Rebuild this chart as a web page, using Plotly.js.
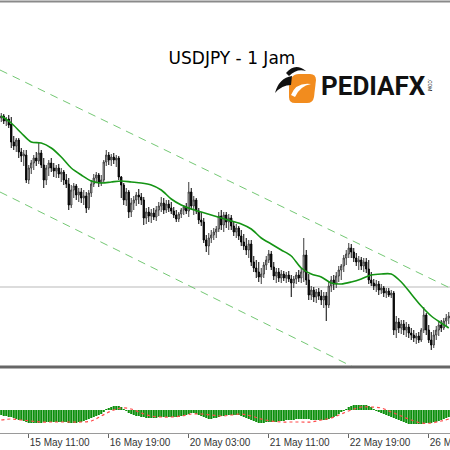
<!DOCTYPE html>
<html><head><meta charset="utf-8">
<script src="https://cdn.plot.ly/plotly-3.0.1.min.js"></script>
<style>html,body{margin:0;padding:0;background:#fff}#chart{width:450px;height:450px}</style>
</head><body><div id="chart"></div>
<script>
// ---------- DATA ----------
const tickBars = [11, 43, 75, 107, 139, 171];
const tickLabels = ['15 May 11:00', '16 May 19:00', '20 May 03:00', '21 May 11:00', '22 May 19:00', '26 May 03:00'];

const openPrices = [
110.82,110.84,110.79,110.81,110.76,110.58,110.54,110.60,110.48,110.44,110.45,110.20,110.32,110.37,110.42,110.39,110.47,110.35,110.20,110.32,
110.37,110.32,110.29,110.32,110.26,110.28,110.20,110.16,109.95,110.10,110.14,110.05,110.08,110.02,110.04,109.92,110.07,110.16,110.22,110.25,
110.17,110.20,110.38,110.45,110.40,110.43,110.40,110.42,110.23,110.15,110.00,110.08,109.88,109.97,110.00,110.05,110.03,110.00,109.82,109.88,
109.84,109.87,109.83,109.90,109.94,109.97,109.90,109.96,109.92,109.89,109.85,109.81,109.86,109.90,109.93,109.89,110.08,109.94,110.00,109.89,
109.80,109.78,109.60,109.54,109.62,109.65,109.68,109.71,109.84,109.75,109.85,109.78,109.82,109.74,109.68,109.72,109.64,109.58,109.54,109.50,
109.56,109.38,109.32,109.28,109.23,109.26,109.35,109.40,109.46,109.33,109.24,109.28,109.22,109.26,109.22,109.25,109.21,109.17,109.21,109.25,
109.22,109.28,109.45,109.20,109.05,109.10,109.03,109.08,109.04,109.00,109.04,108.95,109.14,109.20,109.16,109.24,109.30,109.34,109.42,109.46,
109.52,109.48,109.42,109.38,109.40,109.34,109.38,109.31,109.20,109.17,109.14,109.16,109.10,109.12,109.07,109.09,109.05,109.07,108.70,108.78,
108.72,108.76,108.70,108.73,108.67,108.65,108.62,108.64,108.60,108.70,108.85,108.70,108.60,108.55,108.65,108.70,108.75,108.72,108.79,108.82];
const highPrices = [
110.87,110.86,110.83,110.85,110.83,110.64,110.62,110.62,110.52,110.50,110.50,110.35,110.40,110.45,110.48,110.57,110.50,110.42,110.35,110.40,
110.42,110.37,110.35,110.36,110.32,110.30,110.26,110.22,110.15,110.17,110.16,110.12,110.12,110.10,110.08,110.10,110.20,110.26,110.28,110.27,
110.25,110.40,110.50,110.48,110.46,110.47,110.45,110.44,110.24,110.17,110.12,110.10,110.02,110.04,110.08,110.11,110.07,110.03,109.92,109.93,
109.91,109.92,109.94,109.98,110.03,110.02,110.00,110.00,109.98,109.93,109.90,109.88,109.92,109.95,109.97,110.18,110.12,110.04,110.02,109.92,
109.88,109.82,109.65,109.67,109.70,109.72,109.74,109.88,109.90,109.88,109.88,109.86,109.85,109.78,109.76,109.74,109.70,109.66,109.62,109.60,
109.60,109.44,109.40,109.38,109.32,109.38,109.44,109.50,109.49,109.38,109.32,109.32,109.30,109.29,109.28,109.29,109.25,109.24,109.28,109.30,
109.32,109.62,109.50,109.26,109.14,109.13,109.11,109.12,109.10,109.08,109.08,109.18,109.24,109.25,109.28,109.34,109.36,109.45,109.50,109.57,
109.56,109.52,109.47,109.44,109.43,109.42,109.42,109.40,109.28,109.21,109.20,109.19,109.16,109.14,109.12,109.12,109.10,109.09,108.84,108.82,
108.80,108.80,108.78,108.76,108.72,108.70,108.67,108.68,108.72,108.93,108.87,108.75,108.68,108.70,108.74,108.78,108.80,108.82,108.86,108.88];
const lowPrices = [
110.78,110.76,110.74,110.72,110.52,110.50,110.48,110.42,110.38,110.34,110.17,110.16,110.26,110.30,110.34,110.36,110.32,110.12,110.15,110.24,
110.28,110.23,110.22,110.22,110.18,110.15,110.12,109.90,109.92,110.02,110.00,109.98,109.97,109.95,109.87,109.90,110.03,110.13,110.17,110.13,
110.14,110.18,110.34,110.35,110.34,110.36,110.33,110.20,110.02,109.95,109.94,109.82,109.83,109.90,109.94,109.96,109.95,109.75,109.76,109.78,
109.77,109.80,109.79,109.84,109.88,109.86,109.87,109.88,109.86,109.82,109.78,109.78,109.82,109.85,109.86,109.83,109.90,109.85,109.86,109.76,
109.74,109.57,109.48,109.45,109.57,109.60,109.62,109.68,109.70,109.68,109.72,109.70,109.70,109.64,109.62,109.60,109.54,109.50,109.45,109.42,
109.34,109.28,109.22,109.18,109.16,109.22,109.30,109.37,109.30,109.20,109.17,109.18,109.17,109.19,109.17,109.18,109.03,109.12,109.16,109.18,
109.17,109.18,109.15,109.00,109.00,108.98,108.97,109.00,108.95,108.92,108.79,108.92,109.08,109.10,109.12,109.18,109.20,109.28,109.35,109.42,
109.42,109.38,109.34,109.30,109.30,109.28,109.27,109.16,109.14,109.10,109.08,109.05,109.06,109.03,109.02,109.03,109.02,108.65,108.62,108.67,
108.66,108.65,108.63,108.62,108.60,108.58,108.56,108.57,108.58,108.67,108.65,108.57,108.50,108.52,108.60,108.64,108.68,108.70,108.74,108.76];
const closePrices = [
110.84,110.79,110.81,110.75,110.58,110.54,110.60,110.48,110.44,110.46,110.20,110.32,110.37,110.42,110.39,110.47,110.35,110.20,110.32,110.37,
110.32,110.29,110.32,110.26,110.28,110.20,110.16,109.95,110.10,110.14,110.05,110.08,110.02,110.04,109.92,110.07,110.16,110.22,110.25,110.17,
110.20,110.38,110.45,110.40,110.43,110.40,110.42,110.23,110.15,110.00,110.08,109.88,109.97,110.00,110.05,110.03,110.00,109.82,109.88,109.84,
109.87,109.83,109.90,109.94,109.97,109.90,109.96,109.92,109.89,109.85,109.81,109.86,109.90,109.93,109.89,110.08,109.94,110.00,109.89,109.80,
109.78,109.60,109.54,109.62,109.65,109.68,109.71,109.84,109.75,109.85,109.78,109.82,109.74,109.68,109.72,109.64,109.58,109.54,109.50,109.56,
109.38,109.32,109.28,109.23,109.26,109.35,109.40,109.46,109.33,109.24,109.28,109.22,109.26,109.22,109.25,109.21,109.17,109.21,109.25,109.22,
109.28,109.45,109.20,109.05,109.10,109.03,109.08,109.04,109.00,109.04,108.95,109.14,109.20,109.16,109.24,109.30,109.34,109.42,109.46,109.52,
109.48,109.42,109.38,109.40,109.34,109.38,109.31,109.20,109.17,109.14,109.16,109.10,109.12,109.07,109.09,109.05,109.07,108.70,108.78,108.72,
108.76,108.70,108.73,108.67,108.65,108.62,108.64,108.60,108.70,108.85,108.70,108.60,108.55,108.65,108.70,108.75,108.72,108.79,108.82,108.84];

const maBars = [0,4,8,12,16,20,24,28,32,36,40,44,48,52,56,60,64,68,72,76,80,84,88,92,96,100,104,108,112,116,120,124,128,132,136,140,144,148,152,156,160,164,168,172,176,179];
const maValues = [110.84,110.77,110.67,110.58,110.57,110.52,110.43,110.32,110.25,110.19,110.17,110.18,110.19,110.18,110.17,110.15,110.10,110.01,109.95,109.91,109.88,109.85,109.82,109.79,109.76,109.71,109.62,109.56,109.50,109.44,109.32,109.26,109.23,109.17,109.16,109.18,109.21,109.25,109.26,109.26,109.18,109.06,108.94,108.84,108.77,108.72];

const channelBars = [-0.5, 179.5];
const upperChannel = [111.30, 109.12];
const lowerChannel = [110.08, 107.85];
const levelPrice = 109.13;

const macdHist = [
-0.05,-0.06,-0.06,-0.07,-0.07,-0.08,-0.09,-0.10,-0.10,-0.11,-0.12,-0.13,-0.13,-0.13,-0.13,-0.13,-0.13,-0.12,-0.12,-0.12,
-0.12,-0.12,-0.12,-0.12,-0.12,-0.12,-0.12,-0.13,-0.13,-0.13,-0.13,-0.12,-0.12,-0.11,-0.10,-0.09,-0.08,-0.07,-0.06,-0.05,
-0.04,-0.02,0.01,0.02,0.03,0.04,0.04,0.04,0.03,0.01,-0.01,-0.03,-0.04,-0.05,-0.06,-0.06,-0.07,-0.07,-0.08,-0.08,
-0.08,-0.08,-0.08,-0.07,-0.07,-0.07,-0.07,-0.07,-0.07,-0.07,-0.07,-0.07,-0.06,-0.06,-0.05,-0.04,-0.03,-0.03,-0.04,-0.05,
-0.06,-0.07,-0.08,-0.09,-0.09,-0.08,-0.08,-0.07,-0.06,-0.06,-0.05,-0.05,-0.05,-0.05,-0.05,-0.05,-0.06,-0.07,-0.08,-0.09,
-0.10,-0.11,-0.12,-0.13,-0.13,-0.13,-0.12,-0.12,-0.12,-0.12,-0.12,-0.11,-0.11,-0.11,-0.10,-0.10,-0.10,-0.10,-0.09,-0.09,
-0.09,-0.09,-0.09,-0.09,-0.10,-0.10,-0.10,-0.10,-0.10,-0.10,-0.10,-0.09,-0.08,-0.07,-0.06,-0.04,-0.02,-0.01,0.01,0.03,
0.04,0.05,0.05,0.05,0.05,0.05,0.05,0.04,0.03,0.01,-0.01,-0.02,-0.03,-0.04,-0.05,-0.06,-0.07,-0.08,-0.09,-0.10,
-0.11,-0.12,-0.13,-0.14,-0.14,-0.14,-0.14,-0.14,-0.14,-0.14,-0.13,-0.13,-0.13,-0.12,-0.12,-0.11,-0.10,-0.09,-0.08,-0.07];
const macdSignal = [-0.10,-0.09,-0.10,-0.11,-0.12,-0.12,-0.12,-0.12,-0.12,-0.11,-0.06,-0.01,0.02,0.01,-0.03,-0.06,-0.07,-0.07,-0.06,-0.04,-0.04,-0.05,-0.06,-0.05,-0.04,-0.06,-0.09,-0.11,-0.12,-0.12,-0.12,-0.12,-0.10,-0.08,-0.04,0.00,0.03,0.03,0.02,-0.02,-0.06,-0.10,-0.13,-0.13,-0.11,-0.09];

const bars = openPrices.map((_, i) => i);

// ---------- helpers for decoration (pixel -> paper) ----------
const W = 450, H = 450;
function toPaper(path) {
  return path.replace(/(-?\d+\.?\d*),(-?\d+\.?\d*)/g, (m, x, y) =>
    (parseFloat(x) / W).toFixed(5) + ',' + (1 - parseFloat(y) / H).toFixed(5));
}
function py(y) { return 1 - y / H; }

const traces = [
  { type: 'scatter', mode: 'lines', x: channelBars, y: upperChannel, xaxis: 'x', yaxis: 'y',
    line: { color: '#74c874', width: 1, dash: '8px,6px' }, hoverinfo: 'skip' },
  { type: 'scatter', mode: 'lines', x: channelBars, y: lowerChannel, xaxis: 'x', yaxis: 'y',
    line: { color: '#74c874', width: 1, dash: '8px,6px' }, hoverinfo: 'skip' },
  { type: 'candlestick', x: bars, open: openPrices, high: highPrices, low: lowPrices, close: closePrices,
    xaxis: 'x', yaxis: 'y', whiskerwidth: 0,
    increasing: { line: { color: '#3a3a3a', width: 1 }, fillcolor: '#ffffff' },
    decreasing: { line: { color: '#000000', width: 1 }, fillcolor: '#000000' } },
  { type: 'scatter', mode: 'lines', x: maBars, y: maValues, xaxis: 'x', yaxis: 'y',
    line: { color: '#149414', width: 1.6, shape: 'spline', smoothing: 0.8 } },
  { type: 'bar', x: bars, y: macdHist, xaxis: 'x', yaxis: 'y2',
    marker: { color: '#0c8f0c', line: { width: 0 } } },
  { type: 'scatter', mode: 'lines', x: maBars, y: macdSignal, xaxis: 'x', yaxis: 'y2',
    line: { color: '#ff4a4a', width: 1.2, dash: 'dot', shape: 'spline' } }
];

const layout = {
  width: W, height: H,
  margin: { l: 0, r: 0, t: 0, b: 0, pad: 0 },
  paper_bgcolor: '#ffffff', plot_bgcolor: '#ffffff',
  showlegend: false, bargap: 0.15,
  font: { family: 'Liberation Sans, Arial, sans-serif', color: '#222' },
  title: { text: 'USDJPY - 1 Jam', x: 232 / W, y: py(58), xanchor: 'center', yanchor: 'middle',
    xref: 'container', yref: 'container',
    font: { family: 'DejaVu Sans', size: 17, color: '#000000' } },
  xaxis: { anchor: 'y2', range: [-0.5, 179.5], showgrid: false, zeroline: false,
    rangeslider: { visible: false },
    tickmode: 'array', tickvals: tickBars, ticktext: tickLabels,
    ticks: 'outside', ticklen: 4, tickcolor: '#666', tickwidth: 1,
    ticklabelposition: 'outside right', ticklabeloverflow: 'allow',
    tickfont: { family: 'Liberation Sans', size: 10, color: '#333' },
    showline: true, linecolor: '#9a9a9a', linewidth: 1 },
  yaxis: { domain: [py(367), py(1)], range: [108.33, 111.99], showgrid: false, zeroline: false,
    showticklabels: false, ticks: '' },
  yaxis2: { domain: [py(433), py(369)], range: [-0.23, 0.41], showgrid: false, zeroline: false,
    showticklabels: false, ticks: '' },
  shapes: [
    { type: 'line', xref: 'paper', yref: 'y', x0: 0, x1: 1, y0: levelPrice, y1: levelPrice,
      line: { color: '#dcdcdc', width: 2 }, layer: 'below' },
    { type: 'line', xref: 'paper', yref: 'paper', x0: 0, x1: 1, y0: py(1.5), y1: py(1.5),
      line: { color: '#8a8a8a', width: 2 } },
    { type: 'line', xref: 'paper', yref: 'paper', x0: 0, x1: 1, y0: py(367), y1: py(367),
      line: { color: '#666666', width: 3 } },
    // logo icon
    { type: 'path', xref: 'paper', yref: 'paper',
      path: toPaper('M299,74 L310,74 Q316,74 316,80 L314,97 Q313,103 307,103 L295,103 Q289,103 289,97 L289,86 Q290,74 299,74 Z'),
      fillcolor: '#f28c1e', line: { width: 0 } },
    { type: 'path', xref: 'paper', yref: 'paper',
      path: toPaper('M291,95 Q296,82 311,84 Q300,86 295,97 Z'),
      fillcolor: '#ffffff', line: { width: 0 } },
    { type: 'path', xref: 'paper', yref: 'paper',
      path: toPaper('M286,73 Q295,62 306,71 Q297,68 289,76 Z'),
      fillcolor: '#111111', line: { width: 0 } },
    { type: 'path', xref: 'paper', yref: 'paper',
      path: toPaper('M292,76 Q279,78 275,93 Q282,85 291,85 Z'),
      fillcolor: '#111111', line: { width: 0 } }
  ],
  annotations: [
    { xref: 'paper', yref: 'paper', x: 319 / W, y: py(86), xanchor: 'left', yanchor: 'middle',
      text: '<b>PEDIAFX</b>', showarrow: false,
      font: { family: 'Roboto', size: 26, color: '#111111' } },
    { xref: 'paper', yref: 'paper', x: 430 / W, y: py(85), xanchor: 'center', yanchor: 'middle',
      text: '.COM', textangle: 90, showarrow: false,
      font: { family: 'Roboto', size: 5, color: '#111111' } }
  ]
};

Plotly.newPlot('chart', traces, layout, { staticPlot: true, displayModeBar: false });
</script>
</body></html>
